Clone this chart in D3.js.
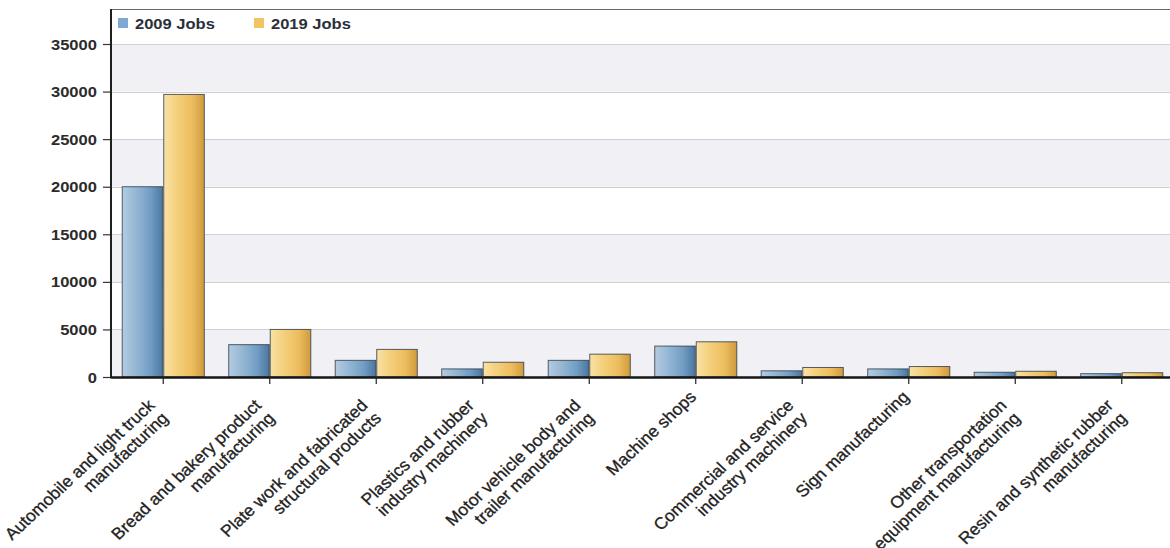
<!DOCTYPE html>
<html>
<head>
<meta charset="utf-8">
<script src="https://cdn.jsdelivr.net/npm/d3@7"></script>
<style>
  html, body { margin: 0; padding: 0; background: #fff; }
  svg { display: block; font-family: "Liberation Sans", Arial, sans-serif; }
</style>
</head>
<body>
<script>
// ---- data ----
const categories = [
  "Automobile and light truck manufacturing",
  "Bread and bakery product manufacturing",
  "Plate work and fabricated structural products",
  "Plastics and rubber industry machinery",
  "Motor vehicle body and trailer manufacturing",
  "Machine shops",
  "Commercial and service industry machinery",
  "Sign manufacturing",
  "Other transportation equipment manufacturing",
  "Resin and synthetic rubber manufacturing"
];
const labelLines = [
  ["Automobile and light truck", "manufacturing"],
  ["Bread and bakery product", "manufacturing"],
  ["Plate work and fabricated", "structural products"],
  ["Plastics and rubber", "industry machinery"],
  ["Motor vehicle body and", "trailer manufacturing"],
  ["Machine shops"],
  ["Commercial and service", "industry machinery"],
  ["Sign manufacturing"],
  ["Other transportation", "equipment manufacturing"],
  ["Resin and synthetic rubber", "manufacturing"]
];
const seriesNames = ["2009 Jobs", "2019 Jobs"];
const jobs2009 = [20000, 3400, 1750, 850, 1750, 3250, 650, 850, 500, 350];
const jobs2019 = [29700, 5000, 2900, 1550, 2400, 3700, 1000, 1100, 600, 450];
const yTicks = [0, 5000, 10000, 15000, 20000, 25000, 30000, 35000];

// ---- layout ----
const W = 1170, H = 548;
const mLeft = 111, mTop = 9, mBottom = 377, mRight = 1170;
const SX = 1.18;   // horizontal text stretch (legend, y labels)
const SXL = 1.07;  // horizontal stretch for rotated labels

const svg = d3.select("body").append("svg").attr("width", W).attr("height", H);
const defs = svg.append("defs");

function grad(id, stops) {
  const g = defs.append("linearGradient").attr("id", id)
    .attr("x1", "0%").attr("x2", "100%").attr("y1", "0%").attr("y2", "0%");
  stops.forEach(s => g.append("stop").attr("offset", s[0]).attr("stop-color", s[1]));
}
grad("gBlue", [["0%", "#b4cbe0"], ["30%", "#98b9d6"], ["70%", "#729dc4"], ["100%", "#4a77a1"]]);
grad("gYellow", [["0%", "#f8e2a6"], ["30%", "#f5d17f"], ["70%", "#ecbd5e"], ["100%", "#cf9a3d"]]);
const fills = ["url(#gBlue)", "url(#gYellow)"];
const legendColors = ["#7fa9d2", "#f0c463"];

const y = d3.scaleLinear().domain([0, 35000]).range([mBottom, 44]);
const x0 = d3.scaleBand().domain(categories).range([110, 1175])
  .paddingInner(0.22).paddingOuter(0.11);
const x1 = d3.scaleBand().domain(seriesNames).range([0, x0.bandwidth()]);

// alternating bands
const bandStarts = yTicks.filter((t, i) => i % 2 === 0 && i < yTicks.length - 1);
svg.append("g").selectAll("rect").data(bandStarts).join("rect")
  .attr("x", mLeft).attr("width", mRight - mLeft)
  .attr("y", d => y(d + 5000)).attr("height", d => y(d) - y(d + 5000))
  .attr("fill", "#f0f0f5");

// grid lines
svg.append("g").selectAll("line").data(yTicks.slice(1)).join("line")
  .attr("x1", mLeft).attr("x2", mRight)
  .attr("y1", d => Math.round(y(d)) + 0.5).attr("y2", d => Math.round(y(d)) + 0.5)
  .attr("stroke", "#cfcfd4").attr("stroke-width", 1);

// top frame
svg.append("line").attr("x1", mLeft).attr("x2", mRight)
  .attr("y1", mTop + 0.5).attr("y2", mTop + 0.5)
  .attr("stroke", "#666").attr("stroke-width", 1);

// bars
const data = categories.map((c, i) => ({ cat: c, vals: [jobs2009[i], jobs2019[i]] }));
const groups = svg.append("g").selectAll("g").data(data).join("g")
  .attr("transform", d => `translate(${x0(d.cat)},0)`);
groups.selectAll("rect").data(d => d.vals.map((v, k) => ({ v, k })))
  .join("rect")
  .attr("x", d => x1(seriesNames[d.k]) + 0.5)
  .attr("width", x1.bandwidth() - 1)
  .attr("y", d => y(d.v))
  .attr("height", d => y(0) - y(d.v))
  .attr("fill", d => fills[d.k])
  .attr("stroke", "#2f3a44").attr("stroke-opacity", 0.8).attr("stroke-width", 1);

// y axis
const yAxis = svg.append("g").attr("transform", `translate(${mLeft},0)`)
  .call(d3.axisLeft(y).tickValues(yTicks).tickFormat(d3.format("d"))
    .tickSize(8).tickPadding(4).tickSizeOuter(0));
yAxis.select(".domain").remove();
yAxis.selectAll(".tick line").attr("stroke", "#333").attr("stroke-width", 1.2);
yAxis.selectAll(".tick text")
  .attr("transform", `scale(${SX},1)`)
  .attr("dy", "0.36em")
  .attr("font-size", 14).attr("font-weight", "bold").attr("fill", "#2b2b2b")
  .attr("font-family", "Liberation Sans, Arial, sans-serif");
svg.append("line").attr("x1", mLeft).attr("x2", mLeft).attr("y1", mTop).attr("y2", mBottom)
  .attr("stroke", "#1f1f1f").attr("stroke-width", 2);

// x axis
const xAxis = svg.append("g").attr("transform", `translate(0,${mBottom})`)
  .call(d3.axisBottom(x0).tickSize(7).tickSizeOuter(0).tickFormat(""));
xAxis.select(".domain").attr("stroke", "#161616").attr("stroke-width", 2.5);
xAxis.selectAll(".tick line").attr("stroke", "#222").attr("stroke-width", 1.2);

// x labels, rotated
const lh = 18;
const lab = svg.append("g").selectAll("g").data(categories).join("g")
  .attr("transform", (d) => `translate(${x0(d) + x0.bandwidth() / 2 + 1.5},${mBottom + 21}) scale(${SXL},1) rotate(-45)`);
lab.each(function (d, i) {
  const lines = labelLines[i];
  const n = lines.length;
  d3.select(this).selectAll("text").data(lines).join("text")
    .attr("x", -12 * (n - 1))
    .attr("y", (t, j) => j * lh)
    .attr("text-anchor", "end")
    .attr("font-size", 16.5)
    .attr("fill", "#222")
    .attr("stroke", "#222").attr("stroke-width", 0.3)
    .text(t => t);
});

// legend
const lg = svg.append("g").attr("transform", "translate(118,18)");
seriesNames.forEach((s, k) => {
  const gx = k * 136;
  lg.append("rect").attr("x", gx).attr("y", 0).attr("width", 10).attr("height", 10)
    .attr("fill", legendColors[k]);
  lg.append("text").attr("transform", `translate(${gx + 17},11) scale(${SX},1)`)
    .attr("font-size", 14).attr("font-weight", "bold").attr("fill", "#2b2f3a")
    .text(s);
});
</script>
</body>
</html>
